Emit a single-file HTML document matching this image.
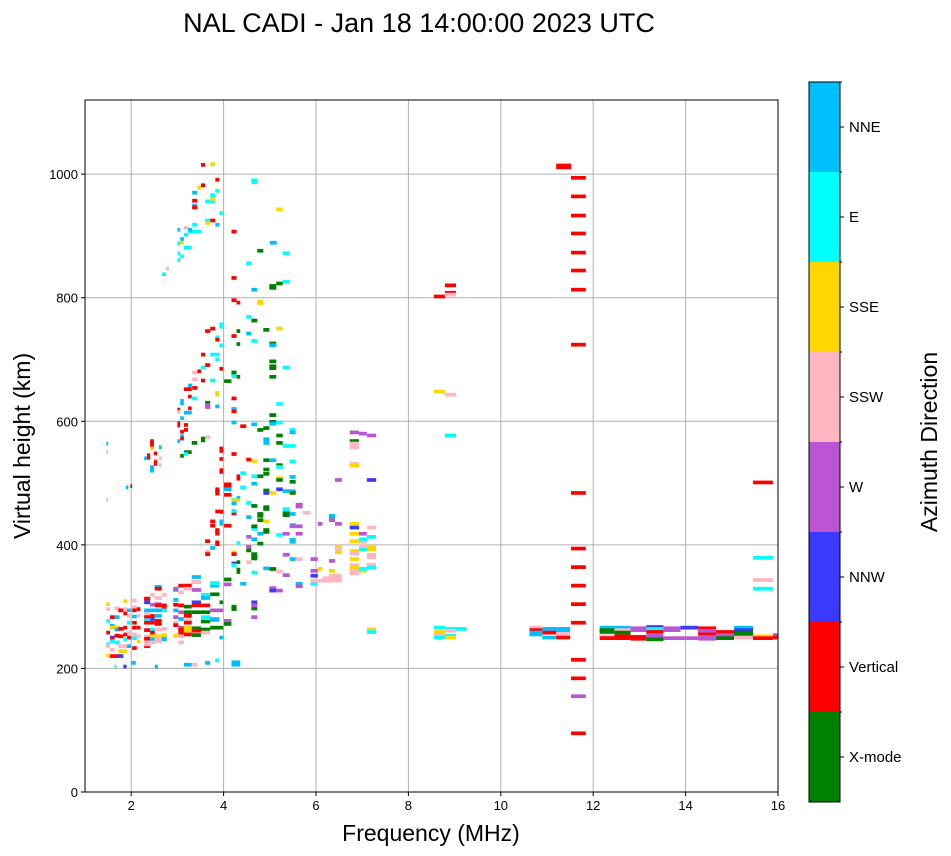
<!DOCTYPE html>
<html><head><meta charset="utf-8"><style>
body{margin:0;background:#fff}
svg{display:block;font-family:"Liberation Sans","DejaVu Sans",sans-serif}
</style></head><body>
<svg id="chart" width="951" height="856" viewBox="0 0 951 856">
<text x="419" y="32" font-size="27" text-anchor="middle">NAL CADI - Jan 18 14:00:00 2023 UTC</text>
<g id="grid"></g>
<g id="marks"></g>
<rect x="85" y="100" width="693" height="692" fill="none" stroke="#000" stroke-width="1"/>
<g id="axes"></g>
<text x="431" y="841" font-size="23" text-anchor="middle">Frequency (MHz)</text>
<text transform="translate(30,446) rotate(-90)" font-size="23" text-anchor="middle">Virtual height (km)</text>
<g id="cbar"></g>
<text transform="translate(937,442) rotate(-90)" font-size="23" text-anchor="middle">Azimuth Direction</text>
</svg>
<script>
const colorNames = ["X-mode","Vertical","NNW","W","SSW","SSE","E","NNE"];
const colorValues = ["#008000","#ff0000","#3a3aff","#ba55d3","#ffb6c1","#ffd700","#00ffff","#00bfff"];
const xTicks = [2,4,6,8,10,12,14,16];
const yTicks = [0,200,400,600,800,1000];
// echoes: [fStart MHz, fEnd MHz, height km, colorIndex]
const echoes = [
// high frequency vertical ladder
[11.2,11.52,1014,1],[11.2,11.52,1011,1],
[11.52,11.84,994,1],[11.52,11.84,964,1],[11.52,11.84,933,1],[11.52,11.84,904,1],[11.52,11.84,873,1],[11.52,11.84,844,1],[11.52,11.84,813,1],[11.52,11.84,724,1],[11.52,11.84,484,1],[11.52,11.84,394,1],[11.52,11.84,364,1],[11.52,11.84,334,1],[11.52,11.84,304,1],[11.52,11.84,274,1],[11.52,11.84,214,1],[11.52,11.84,184,1],[11.52,11.84,155,3],[11.52,11.84,95,1],
// 8.7 MHz
[8.55,8.79,802,1],[8.79,9.03,820,1],[8.79,9.03,808,1],[8.79,9.03,805,4],[8.55,8.79,648,5],[8.79,9.03,643,4],[8.79,9.03,577,6],
[8.55,8.79,266,6],[8.79,9.26,264,6],[8.55,8.79,259,5],[8.79,9.03,261,4],[8.55,8.79,254,4],[8.55,8.79,250,6],[8.79,9.03,253,6],[8.79,9.03,250,5],
// 10.6-11.5
[10.62,10.9,266,4],[10.62,10.9,262,1],[10.62,10.9,258,7],[10.62,10.9,255,7],[10.9,11.5,264,7],[10.9,11.5,261,7],[10.9,11.2,258,4],[10.9,11.2,258,1],[11.2,11.5,256,4],[10.9,11.2,250,7],[11.2,11.5,250,1],
// 12-16
[12.14,12.46,266,7],[12.14,12.46,262,0],[12.14,12.46,259,0],[12.14,12.46,252,4],[12.14,12.46,249,1],
[12.46,12.81,266,7],[12.46,12.81,262,4],[12.46,12.81,258,0],[12.46,12.81,252,1],[12.46,12.81,249,1],
[12.81,13.15,265,3],[12.81,13.15,262,3],[12.81,13.15,251,1],[12.81,13.15,248,1],
[13.15,13.52,267,2],[13.15,13.52,264,6],[13.15,13.52,259,1],[13.15,13.52,254,3],[13.15,13.52,250,3],[13.15,13.52,247,0],
[13.52,13.89,265,3],[13.52,13.89,262,3],[13.52,13.89,249,3],
[13.89,14.27,266,2],[13.89,14.27,249,3],
[14.27,14.66,265,1],[14.27,14.66,261,3],[14.27,14.66,258,3],[14.27,14.66,255,1],[14.27,14.66,251,3],[14.27,14.66,248,3],
[14.66,15.05,259,1],[14.66,15.05,254,3],[14.66,15.05,249,0],
[15.05,15.46,266,7],[15.05,15.46,262,2],[15.05,15.46,258,0],[15.05,15.46,255,0],[15.05,15.46,250,4],
[15.46,15.89,252,5],[15.46,15.89,249,1],[15.89,16,254,3],[15.89,16,250,1],
[15.46,15.89,501,1],[15.46,15.89,379,6],[15.46,15.89,343,4],[15.46,15.89,329,6],
// upper trace 3-5.5 MHz
[3.51,3.6,1015,1],[3.71,3.82,1016,5],[4.6,4.73,990,6],[4.6,4.73,987,6],[3.82,3.91,991,1],[3.51,3.6,982,1],[3.43,3.51,978,5],
[3.32,3.43,970,7],[3.82,3.91,973,6],[3.71,3.82,966,6],[3.6,3.82,956,6],[3.71,3.82,960,5],[3.32,3.43,957,1],[3.32,3.43,949,7],[3.32,3.43,946,1],
[5.14,5.28,943,5],[3.91,4.0,937,6],[3.71,3.82,925,1],[3.6,3.71,925,6],[3.6,3.71,921,5],[3.82,3.91,918,7],[3.32,3.43,918,6],[4.17,4.28,907,1],
[3.0,3.06,910,7],[3.23,3.51,907,6],[3.23,3.32,910,7],[3.14,3.23,913,4],[3.14,3.23,902,6],[3.06,3.14,895,7],[3.0,3.06,888,6],[3.06,3.14,889,5],[3.14,3.31,881,6],
[5.0,5.15,889,7],[4.73,4.86,876,0],[3.0,3.06,872,6],[3.06,3.14,867,6],[3.0,3.06,861,6],[5.28,5.43,872,6],[4.49,4.6,856,6],
[2.75,2.82,847,4],[2.67,2.75,838,6],[4.17,4.28,832,1],[5.28,5.43,826,6],[5.14,5.28,823,0],[4.99,5.14,819,0],[4.99,5.14,816,0],[4.6,4.73,813,7],
[4.17,4.28,796,1],[4.28,4.36,792,1],[4.73,4.86,794,5],[4.73,4.86,791,5],
[4.49,4.6,769,6],[4.6,4.73,763,0],[4.86,4.99,748,0],[5.14,5.28,750,5],[4.28,4.36,746,0],[4.49,4.6,742,7],[3.71,3.82,750,1],[3.6,3.71,746,1],[3.91,3.99,757,6],[3.91,3.99,753,6],[3.82,3.91,736,6],[3.82,3.91,732,1],[4.17,4.28,738,1],[4.28,4.36,725,0],[4.6,4.73,730,6],[4.99,5.14,726,0],[4.99,5.14,723,7],[3.91,3.99,723,6],
[3.51,3.6,708,1],[3.71,3.91,708,6],[3.82,3.91,700,6],[4.99,5.14,697,0],[4.99,5.14,689,0],[4.99,5.14,686,0],[5.28,5.43,687,6],[3.6,3.71,691,1],[3.51,3.6,687,6],[3.91,3.99,685,1],[3.43,3.51,681,1],[3.32,3.43,679,4],[4.17,4.28,679,0],[4.17,4.28,676,0],[4.17,4.28,673,6],[4.28,4.36,672,0],[4.99,5.14,672,0],[4.01,4.17,665,0],[3.51,3.6,666,1],[3.71,3.82,666,6],[3.32,3.43,668,4],
[3.23,3.32,658,7],[3.32,3.43,654,1],[3.14,3.31,652,1],[3.82,3.91,646,5],[3.82,3.91,643,5],[3.23,3.31,640,1],[3.31,3.43,637,6],[4.17,4.28,637,1],[3.06,3.14,633,7],[3.06,3.14,629,7],[3.6,3.71,630,0],[3.6,3.71,626,3],[3.6,3.71,623,3],[3.82,3.91,624,7],[5.14,5.28,628,6],
[4.17,4.28,620,7],[4.17,4.28,616,1],[3.0,3.06,619,1],[3.0,3.06,615,4],[3.14,3.31,614,7],[3.23,3.31,621,1],[3.06,3.14,605,7],[4.99,5.14,610,0],[3.0,3.06,597,1],[3.0,3.06,593,1],[3.14,3.23,594,1],[4.17,4.28,598,7],[4.36,4.49,592,1],[4.6,4.73,595,7],[4.73,4.86,586,0],[4.86,4.99,589,0],[4.99,5.14,599,0],[4.99,5.14,596,7],[5.14,5.28,598,6],[5.43,5.56,586,6],[5.43,5.56,582,7],[3.06,3.14,583,1],[3.14,3.23,586,1],[3.06,3.14,576,7],[3.06,3.14,572,1],[5.14,5.28,577,0],[3.6,3.71,574,4],[3.51,3.6,572,0],[3.51,3.6,569,0],[3.0,3.06,568,7],[3.31,3.43,565,0],[4.86,4.99,571,7],[4.86,4.99,565,7],[5.14,5.28,565,0],[5.28,5.56,560,6],
[2.41,2.49,568,1],[2.41,2.49,564,1],[2.41,2.49,561,1],[2.41,2.49,556,5],[2.6,2.66,558,7],[2.34,2.41,545,1],[2.34,2.41,541,1],[2.49,2.56,548,1],[2.49,2.56,537,4],[2.49,2.56,531,1],[2.49,2.56,534,1],[2.6,2.66,540,4],[2.28,2.34,540,7],[3.14,3.31,550,0],[3.06,3.14,544,0],[3.14,3.23,547,6],
[3.91,3.99,556,1],[3.91,3.99,552,1],[3.91,3.99,539,1],[3.91,3.99,521,1],[3.91,3.99,518,1],[4.17,4.28,547,1],[4.49,4.6,538,1],[4.6,4.73,535,5],[4.86,4.99,537,0],[4.99,5.14,537,7],[5.43,5.56,535,6],[5.14,5.28,529,0],[5.14,5.28,526,6],[2.41,2.49,526,7],[2.41,2.49,520,7],[2.41,2.49,523,7],[2.6,2.66,529,4],
[4.28,4.36,511,1],[4.28,4.36,507,1],[4.36,4.49,516,6],[4.86,4.99,522,0],[4.73,4.86,511,0],[4.6,4.73,511,6],[4.86,4.99,515,0],[5.14,5.28,508,5],[5.14,5.28,505,0],[5.43,5.56,510,7],[5.43,5.56,502,0],
[4.01,4.17,498,1],[4.01,4.17,495,1],[3.82,3.91,490,1],[3.82,3.91,486,1],[4.01,4.17,490,7],[4.86,4.99,488,0],[4.86,4.99,484,2],[4.99,5.14,484,5],[4.36,4.49,493,6],[4.6,4.73,499,7],[5.14,5.28,490,2],[5.28,5.56,487,7],[5.43,5.56,484,0],[4.01,4.17,481,1],[3.82,3.91,483,1],[4.28,4.36,476,7],[4.17,4.28,473,6],[4.17,4.36,472,5],[4.17,4.28,467,7],[4.49,4.6,468,6],[4.6,4.73,463,0],[4.86,4.99,461,0],[4.86,4.99,458,0],[5.56,5.71,465,3],[5.56,5.71,462,3],[5.28,5.43,458,6],[5.28,5.43,454,6],[5.28,5.43,448,0],[5.28,5.43,451,0],[5.71,5.88,452,4],[5.43,5.56,450,7],[4.17,4.28,451,1],[4.17,4.28,455,6],[3.91,3.99,453,7],[3.82,3.99,454,1],[4.49,4.6,445,7],[4.73,4.86,450,0],[4.73,4.86,447,0],[4.86,4.99,438,5],[4.73,4.86,440,0],[3.71,3.82,438,1],[3.71,3.82,431,1],[3.91,3.99,438,7],[3.91,3.99,434,7],[4.01,4.17,431,1],[3.82,3.91,424,1],[3.82,3.91,418,1],[3.82,3.91,421,1],[4.6,4.73,426,6],[4.6,4.73,430,0],[4.73,4.86,418,7],[4.86,4.99,424,0],[4.86,4.99,421,0],[5.43,5.56,432,7],[5.43,5.71,430,3],[5.28,5.43,418,3],[5.56,5.71,418,3],[5.43,5.56,408,7],[5.43,5.56,405,7],[5.14,5.28,416,6],[3.6,3.71,406,1],[3.82,3.91,404,1],[3.82,3.91,401,1],[4.28,4.36,403,6],[4.49,4.6,413,3],[4.73,4.86,402,0],[4.6,4.73,409,7],[4.49,4.6,397,3],[4.49,4.6,391,0],[4.6,4.73,381,0],[4.6,4.73,385,0],[4.6,4.73,378,0],[4.17,4.28,388,5],[4.17,4.28,385,1],[3.6,3.71,389,4],[3.6,3.71,385,1],[3.71,3.82,395,7],[4.17,4.28,370,2],[4.17,4.28,367,6],[4.28,4.36,372,0],[4.28,4.36,360,0],[4.28,4.36,356,0],[4.49,4.6,372,4],[5.28,5.43,384,3],[5.43,5.56,377,7],[5.56,5.71,377,4],[5.88,6.04,377,3],[4.86,4.99,362,7],[4.99,5.14,361,0],[5.14,5.28,357,4],[5.28,5.43,351,3],[4.6,4.73,355,6],[4.01,4.17,344,0],[4.36,4.49,337,7],[4.99,5.14,330,3],[4.99,5.14,326,2],[5.14,5.28,326,3],[5.56,5.71,337,7],[5.56,5.71,333,3],[5.88,6.04,337,6],[5.88,6.04,342,4],[5.88,6.04,358,3],[5.88,6.04,350,2],[6.04,6.14,361,5],[6.04,6.56,342,4],[6.14,6.56,346,4],
// 6.3-7.3 MHz cluster
[6.73,6.93,582,3],[6.93,7.1,580,3],[7.1,7.3,577,3],[6.73,6.93,568,0],[6.73,6.93,564,4],[6.73,6.93,558,4],[6.73,6.93,531,4],[6.73,6.93,528,5],[6.41,6.56,505,3],[7.1,7.3,505,2],
[6.28,6.41,447,7],[6.28,6.41,443,7],[6.28,6.41,440,3],[6.41,6.56,434,3],[6.04,6.14,434,3],[6.73,6.93,434,5],[6.73,6.93,428,2],[7.1,7.3,428,4],[6.73,6.93,418,5],[6.93,7.1,418,3],[7.1,7.3,413,6],[6.93,7.1,405,4],[6.73,6.93,406,5],[6.93,7.1,409,6],[7.1,7.3,397,5],[7.1,7.3,393,5],[7.1,7.3,384,4],[7.1,7.3,380,4],[6.41,6.56,397,5],[6.41,6.56,388,5],[6.41,6.56,394,4],[6.73,6.93,390,5],[6.93,7.1,393,6],[6.93,7.1,398,4],[6.73,6.93,386,4],[6.73,6.93,377,5],[6.73,6.93,367,4],[7.1,7.3,368,4],[7.1,7.3,363,6],[6.73,6.93,364,5],[6.73,6.93,358,4],[6.73,6.93,354,4],[6.93,7.1,358,5],[6.93,7.1,361,6],[6.28,6.41,374,3],[6.28,6.41,358,5],[6.28,6.56,350,4],[7.1,7.3,263,5],[7.1,7.3,259,6],
// isolated low freq
[1.46,1.5,564,7],[1.46,1.5,550,4],[1.46,1.5,473,4],[1.88,1.94,493,7],[1.98,2.02,495,1],
// dense F-layer cluster 1.5-4.7 MHz
[1.46,1.54,304,5],[1.46,1.54,296,4],[1.46,1.54,277,6],[1.46,1.54,258,1],[1.46,1.54,239,6],[1.46,1.54,221,5],[1.46,1.54,236,4],
[1.54,1.64,283,1],[1.54,1.64,269,7],[1.54,1.64,250,2],[1.54,1.64,247,1],[1.54,1.64,266,5],[1.54,1.64,244,6],[1.54,1.64,230,4],[1.54,1.64,220,1],
[1.64,1.75,297,4],[1.64,1.75,283,7],[1.64,1.75,266,5],[1.64,1.75,253,1],[1.64,1.75,220,1],[1.64,1.75,242,6],[1.64,1.75,263,7],
[1.72,1.83,294,1],[1.72,1.83,264,1],[1.72,1.83,252,1],[1.72,1.83,236,4],[1.72,1.83,228,5],[1.72,1.83,220,2],
[1.83,1.91,309,5],[1.83,1.91,296,4],[1.83,1.91,289,1],[1.83,1.91,266,1],[1.83,1.91,255,1],[1.83,1.91,247,6],[1.83,1.91,236,4],[1.83,1.91,228,5],
[1.91,2.0,294,7],[1.91,2.0,285,4],[1.91,2.0,274,6],[1.91,2.0,258,4],[1.91,2.0,250,1],[1.91,2.0,236,7],
[2.02,2.12,310,4],[2.02,2.12,299,4],[2.02,2.12,294,1],[2.02,2.12,284,7],[2.02,2.12,274,1],[2.02,2.12,266,1],[2.02,2.12,255,4],[2.02,2.12,249,6],[2.02,2.12,233,1],
[2.12,2.2,296,1],[2.12,2.2,285,4],[2.12,2.2,266,1],[2.12,2.2,252,4],[2.12,2.2,244,5],
[2.28,2.41,313,1],[2.28,2.41,307,2],[2.28,2.41,294,7],[2.28,2.41,288,4],[2.28,2.41,283,1],[2.28,2.41,278,6],[2.28,2.41,274,1],[2.28,2.41,262,1],[2.28,2.41,252,4],[2.28,2.41,248,1],[2.28,2.41,242,4],[2.28,2.41,236,1],[2.28,2.41,239,4],
[2.41,2.51,319,4],[2.41,2.51,303,3],[2.41,2.51,294,7],[2.41,2.51,285,1],[2.41,2.51,274,1],[2.41,2.51,280,2],[2.41,2.51,263,6],[2.41,2.51,258,1],[2.41,2.51,252,5],[2.41,2.51,247,7],[2.41,2.51,242,4],
[2.51,2.66,332,7],[2.51,2.66,329,1],[2.51,2.66,314,4],[2.51,2.66,304,3],[2.51,2.66,302,1],[2.51,2.66,294,7],[2.51,2.66,285,7],[2.51,2.66,277,1],[2.51,2.66,272,1],[2.51,2.66,263,4],[2.51,2.66,244,4],[2.51,2.66,252,5],[2.51,2.66,248,4],
[2.66,2.77,302,1],[2.66,2.77,296,1],[2.66,2.77,294,6],[2.66,2.77,319,4],[2.66,2.77,264,4],[2.66,2.77,252,7],[2.66,2.77,247,7],[2.66,2.77,254,5],
[2.91,3.02,327,7],[2.91,3.02,329,3],[2.91,3.02,303,1],[2.91,3.02,311,7],[2.91,3.02,283,3],[2.91,3.02,294,7],[2.91,3.02,274,4],[2.91,3.02,253,5],[2.91,3.02,270,1],
[3.02,3.14,334,1],[3.02,3.14,323,4],[3.02,3.14,302,1],[3.02,3.14,291,3],[3.02,3.14,280,7],[3.02,3.14,266,3],[3.02,3.14,263,1],[3.02,3.14,252,4],[3.02,3.14,258,1],[3.02,3.14,242,4],
[3.14,3.31,334,1],[3.14,3.31,329,4],[3.14,3.31,300,0],[3.14,3.31,288,1],[3.14,3.31,285,1],[3.14,3.31,291,0],[3.14,3.31,278,4],[3.14,3.31,274,1],[3.14,3.31,261,5],[3.14,3.31,255,1],[3.14,3.31,266,5],
[3.31,3.51,348,7],[3.31,3.51,327,3],[3.31,3.51,307,2],[3.31,3.51,302,1],[3.31,3.51,291,0],[3.31,3.51,265,0],[3.31,3.51,254,0],[3.31,3.51,261,1],[3.31,3.51,340,7],[3.31,3.51,340,4],
[3.51,3.71,319,6],[3.51,3.71,314,7],[3.51,3.71,302,1],[3.51,3.71,291,0],[3.51,3.71,283,6],[3.51,3.71,276,0],[3.51,3.71,263,0],[3.51,3.71,258,4],
[3.71,3.91,320,0],[3.71,3.91,334,7],[3.71,3.91,338,5],[3.71,3.91,338,6],[3.71,3.91,279,0],[3.71,3.91,266,0],[3.71,3.91,280,7],[3.71,3.91,294,3],
[3.91,3.99,307,0],[3.91,3.99,294,3],[3.91,3.99,266,0],[3.91,3.99,250,7],
[4.01,4.17,277,3],[4.01,4.17,272,0],[4.01,4.17,336,3],
[4.17,4.28,296,0],[4.17,4.28,300,0],
[4.6,4.73,307,2],[4.6,4.73,297,0],[4.6,4.73,302,3],[4.6,4.73,283,3],
[2.0,2.1,209,7],[2.51,2.58,203,7],[3.14,3.31,206,7],[3.31,3.43,206,4],[3.6,3.71,209,7],[3.82,3.91,213,6],[4.17,4.36,210,7],[4.17,4.36,206,7],[1.83,1.9,203,2],[1.64,1.68,203,6]
];

const X0=85,X1=778,Y0=792,Y1=100,F0=1,F1=16,H0=0,H1=1120;
const NS="http://www.w3.org/2000/svg";
function xs(f){return X0+(f-F0)/(F1-F0)*(X1-X0);}
function ys(h){return Y0-(h-H0)/(H1-H0)*(Y0-Y1);}
function mk(tag,attrs,parent){const e=document.createElementNS(NS,tag);for(const k in attrs)e.setAttribute(k,attrs[k]);parent.appendChild(e);return e;}
const grid=document.getElementById('grid'),marks=document.getElementById('marks'),axes=document.getElementById('axes'),cbar=document.getElementById('cbar');
xTicks.forEach(t=>{
  const g=mk('line',{x1:xs(t),x2:xs(t),y1:Y1,y2:Y0,stroke:'#b0b0b0','stroke-width':1},grid);
  
  
  const tk=mk('line',{x1:xs(t),x2:xs(t),y1:Y0,y2:Y0+4,stroke:'#000'},axes);
  
  
  const lb=mk('text',{x:xs(t),y:Y0+18,'font-size':13,'text-anchor':'middle'},axes);
  lb.textContent=t;
  
  
});
yTicks.forEach(t=>{
  const g=mk('line',{x1:X0,x2:X1,y1:ys(t),y2:ys(t),stroke:'#b0b0b0','stroke-width':1},grid);
  
  
  const tk=mk('line',{x1:X0-4,x2:X0,y1:ys(t),y2:ys(t),stroke:'#000'},axes);
  
  
  const lb=mk('text',{x:X0-7,y:ys(t)+5,'font-size':13,'text-anchor':'end'},axes);
  lb.textContent=t;
  
  
});
echoes.forEach(d=>{
  const r=mk('rect',{x:xs(d[0]),y:ys(d[2]+3),width:Math.max(1.5,xs(d[1])-xs(d[0])),height:ys(d[2]-3)-ys(d[2]+3),fill:colorValues[d[3]]},marks);
  
  
});
// colorbar
const CB_X=809,CB_W=31,CB_T=82,CB_B=802,n=colorNames.length,seg=(CB_B-CB_T)/n;
for(let i=0;i<n;i++){
  const top=CB_B-(i+1)*seg;
  const r=mk('rect',{x:CB_X,y:top,width:CB_W,height:seg,fill:colorValues[i]},cbar);
  
  
  const tk=mk('line',{x1:CB_X+CB_W,x2:CB_X+CB_W+4,y1:top+seg/2,y2:top+seg/2,stroke:'#000'},cbar);
  
  
  const mt=mk('line',{x1:CB_X+CB_W,x2:CB_X+CB_W+2,y1:top,y2:top,stroke:'#000'},cbar);
  
  
  const lb=mk('text',{x:CB_X+CB_W+9,y:top+seg/2+5,'font-size':15},cbar);
  lb.textContent=colorNames[i];
  
  
}
const fr=mk('rect',{x:CB_X,y:CB_T,width:CB_W,height:CB_B-CB_T,fill:'none',stroke:'#000'},cbar);


</script>
</body></html>
